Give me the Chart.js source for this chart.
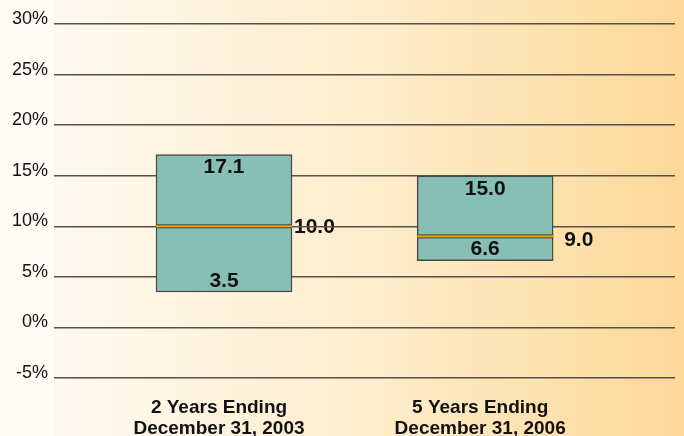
<!DOCTYPE html>
<html lang="en">
<head>
<meta charset="UTF-8">
<title>Return ranges</title>
<script src="https://cdn.jsdelivr.net/npm/chart.js"></script>
<style>
  html, body { margin: 0; padding: 0; background: #fffdf8; }
  #wrap { width: 684px; height: 436px; }
</style>
</head>
<body>
<div id="wrap"><canvas id="rangeChart" width="684" height="436"></canvas></div>
<script>
// data
const periods = [["2 Years Ending", "December 31, 2003"], ["5 Years Ending", "December 31, 2006"]];
const lows = [3.5, 6.6];
const highs = [17.1, 15.0];
const medians = [10.0, 9.0];
const yTicks = [-5, 0, 5, 10, 15, 20, 25, 30];

const FONT = "'Liberation Sans', Arial, Helvetica, sans-serif";
const sideGap = [2, 11];   // gap between box and median label, px

// background + median labels (drawn under the grid like the original)
const backdrop = {
  id: "backdrop",
  beforeDraw(chart) {
    const { ctx, width, height, chartArea } = chart;
    ctx.save();
    ctx.fillStyle = "#fffcf6";
    ctx.fillRect(0, 0, width, height);
    const g = ctx.createLinearGradient(chartArea.left, 0, width, 0);
    g.addColorStop(0, "#fef9ef");
    g.addColorStop(0.5, "#feedcc");
    g.addColorStop(1, "#fcd898");
    ctx.fillStyle = g;
    ctx.fillRect(chartArea.left, 0, width - chartArea.left, height);

    const y = chart.scales.y;
    const bars = chart.getDatasetMeta(0).data;
    ctx.fillStyle = "#111";
    ctx.font = "bold 21px " + FONT;
    ctx.textAlign = "left";
    ctx.textBaseline = "middle";
    bars.forEach((bar, i) => {
      const off = i === 0 ? 1 : 4;
      ctx.fillText(medians[i].toFixed(1), bar.x + bar.width / 2 + sideGap[i], y.getPixelForValue(medians[i]) + off);
    });
    ctx.restore();
  }
};

// median band + inside labels
const boxExtras = {
  id: "boxExtras",
  afterDatasetsDraw(chart) {
    const { ctx } = chart;
    const y = chart.scales.y;
    const bars = chart.getDatasetMeta(0).data;
    ctx.save();
    bars.forEach((bar, i) => {
      const l = bar.x - bar.width / 2;
      const my = y.getPixelForValue(medians[i]);
      ctx.fillStyle = "#45453a";
      ctx.fillRect(l, my - 2, bar.width, 4);
      ctx.fillStyle = "#e8a810";
      ctx.fillRect(l, my - 1, bar.width, 2);

      ctx.fillStyle = "#111";
      ctx.font = "bold 21px " + FONT;
      ctx.textAlign = "center";
      ctx.textBaseline = "middle";
      ctx.fillText(highs[i].toFixed(1), bar.x, y.getPixelForValue(highs[i]) + 13);
      ctx.fillText(lows[i].toFixed(1), bar.x, y.getPixelForValue(lows[i]) - 11);
    });
    ctx.restore();
  }
};

new Chart(document.getElementById("rangeChart"), {
  type: "bar",
  data: {
    datasets: [{
      label: "Range",
      data: periods.map((p, i) => ({ x: i + 1, y: [lows[i], highs[i]] })),
      backgroundColor: "#88bfb5",
      borderColor: "#454a45",
      borderWidth: 1.5,
      borderSkipped: false,
      barThickness: 136
    }]
  },
  options: {
    responsive: false,
    animation: false,
    layout: { padding: { top: 24, right: 9, left: 0, bottom: 0 } },
    plugins: { legend: { display: false }, tooltip: { enabled: false } },
    scales: {
      x: {
        type: "linear",
        offset: false,
        min: 0.349,
        max: 2.727,
        grid: { display: false, offset: false },
        border: { display: false },
        afterBuildTicks(axis) { axis.ticks = periods.map((p, i) => ({ value: i + 1 })); },
        afterFit(axis) { axis.height = 58; },
        ticks: {
          padding: 12,
          labelOffset: -5,
          maxRotation: 0,
          autoSkip: false,
          color: "#111",
          font: { family: FONT, size: 19, weight: "bold", lineHeight: 1.08 },
          callback: v => periods[v - 1]
        }
      },
      y: {
        min: yTicks[0],
        max: yTicks[yTicks.length - 1],
        afterBuildTicks(axis) { axis.ticks = yTicks.map(v => ({ value: v })); },
        afterFit(axis) { axis.width = 54; },
        grid: { color: "#55514a", lineWidth: 1.5, drawTicks: false },
        border: { display: false },
        ticks: {
          padding: 6,
          labelOffset: -5,
          color: "#111",
          font: { family: FONT, size: 18 },
          callback: v => v + "%"
        }
      }
    }
  },
  plugins: [backdrop, boxExtras]
});
</script>
</body>
</html>
